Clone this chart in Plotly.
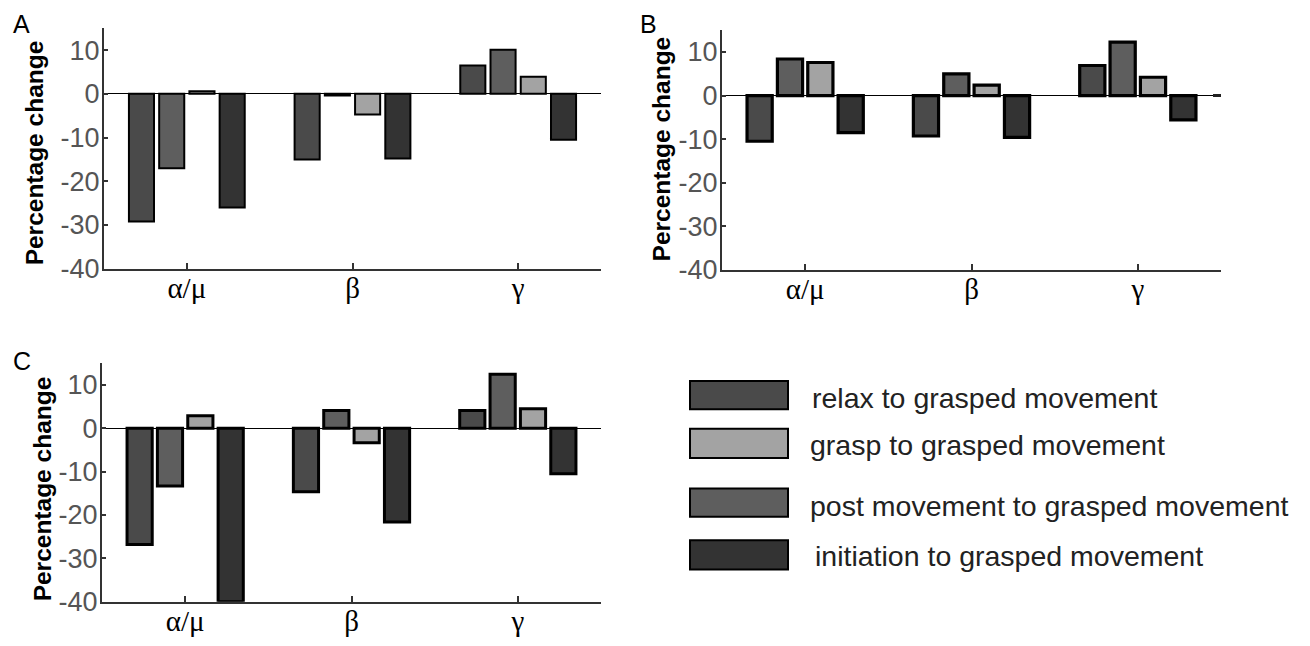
import plotly.graph_objects as go

# ---------------- data ----------------
bands = ["α/μ", "β", "γ"]
series_names = ["relax to grasped movement", "post movement to grasped movement",
                "grasp to grasped movement", "initiation to grasped movement"]
series_colors = ["#4a4a4a", "#5e5e5e", "#a3a3a3", "#333333"]

A_relax = [-29.2, -15.0, 6.5]
A_post = [-17.0, -0.4, 10.1]
A_grasp = [0.6, -4.7, 3.9]
A_init = [-26.0, -14.8, -10.5]

B_relax = [-10.5, -9.3, 6.9]
B_post = [8.4, 5.0, 12.3]
B_grasp = [7.6, 2.4, 4.2]
B_init = [-8.5, -9.6, -5.6]

C_relax = [-26.8, -14.6, 4.1]
C_post = [-13.3, 4.1, 12.5]
C_grasp = [2.9, -3.3, 4.5]
C_init = [-40.0, -21.6, -10.5]

y_ticks = [-40, -30, -20, -10, 0, 10]

legend_order = [0, 2, 1, 3]  # relax, grasp, post, initiation

W, H = 1310, 646

def px_x(v):
    return v / W

def px_y(v):
    return 1 - v / H

panels = [
    ("x", "y", [A_relax, A_post, A_grasp, A_init], 2.0),
    ("x2", "y2", [B_relax, B_post, B_grasp, B_init], 3.2),
    ("x3", "y3", [C_relax, C_post, C_grasp, C_init], 3.0),
]

fig = go.Figure()
for xa, ya, data, lw in panels:
    for i, vals in enumerate(data):
        fig.add_trace(go.Bar(
            x=[1, 2, 3], y=vals, name=series_names[i], xaxis=xa, yaxis=ya,
            marker=dict(color=series_colors[i], line=dict(color="#000000", width=lw)),
            showlegend=False, offsetgroup=str(i),
        ))

domains = {
    "A": ([px_x(104), px_x(601)], [px_y(275), px_y(29)]),
    "B": ([px_x(722), px_x(1221)], [px_y(276), px_y(31)]),
    "C": ([px_x(102), px_x(601)], [px_y(616), px_y(372)]),
}

def xaxis(dom, anchor):
    return dict(domain=dom, anchor=anchor, range=[0.5, 3.5],
                tickvals=[1, 2, 3], ticktext=bands,
                tickfont=dict(family="Liberation Serif", size=29, color="#000000"),
                ticklabelstandoff=-7,
                showline=True, linecolor="#333333", linewidth=2,
                ticks="inside", ticklen=6, tickwidth=2, tickcolor="#333333",
                showgrid=False, zeroline=False, fixedrange=True)

def yaxis(dom, anchor):
    return dict(domain=dom, anchor=anchor, range=[-40, 15],
                tickvals=y_ticks, ticktext=[str(t) for t in y_ticks],
                tickfont=dict(family="Liberation Sans", size=27, color="#555555"),
                ticklabelstandoff=-3,
                showline=True, linecolor="#333333", linewidth=2,
                ticks="inside", ticklen=4, tickwidth=1.5, tickcolor="#333333",
                showgrid=False,
                zeroline=True, zerolinecolor="#000000", zerolinewidth=1,
                fixedrange=True)

fig.update_layout(
    width=W, height=H, margin=dict(l=0, r=0, t=0, b=0),
    paper_bgcolor="white", plot_bgcolor="white",
    barmode="group", bargap=0.27, bargroupgap=0.17,
    xaxis=xaxis(domains["A"][0], "y"), yaxis=yaxis(domains["A"][1], "x"),
    xaxis2=xaxis(domains["B"][0], "y2"), yaxis2=yaxis(domains["B"][1], "x2"),
    xaxis3=xaxis(domains["C"][0], "y3"), yaxis3=yaxis(domains["C"][1], "x3"),
)

annotations = []
# y-axis titles
for xc, yc in [(34, 157), (661, 153), (42, 501)]:
    annotations.append(dict(text="<b>Percentage change</b>", x=px_x(xc), y=px_y(yc),
                            xref="paper", yref="paper", xanchor="center", yanchor="middle",
                            textangle=-90, showarrow=False,
                            font=dict(family="Liberation Sans", size=24.5, color="#000000")))
# panel letters
for lab, xc, yc in [("A", 21, 25), ("B", 648, 25), ("C", 22, 370)]:
    annotations.append(dict(text=lab, x=px_x(xc), y=px_y(yc), xref="paper", yref="paper",
                            xanchor="center", yanchor="middle", showarrow=False,
                            font=dict(family="Liberation Sans", size=25, color="#000000")))

# custom legend
shapes = []
box_rows = [(390, 419), (439, 469), (500, 529), (553, 583)]
text_y = [407, 456, 518, 569]
text_x = [810, 808, 808, 813]
for k, si in enumerate(legend_order):
    y0, y1 = box_rows[k]
    shapes.append(dict(type="rect", xref="paper", yref="paper",
                       x0=px_x(690), x1=px_x(788), y0=px_y(y1), y1=px_y(y0),
                       fillcolor=series_colors[si], line=dict(color="#000000", width=2)))
    annotations.append(dict(text=series_names[si], x=px_x(text_x[k]), y=px_y(text_y[k]),
                            xref="paper", yref="paper", xanchor="left", yanchor="middle",
                            showarrow=False,
                            font=dict(family="Liberation Sans", size=28.5, color="#222222")))

# small dash at end of zero line in panel B
shapes.append(dict(type="line", xref="x2 domain", yref="y2", x0=0.984, x1=1.0, y0=0, y1=0,
                   line=dict(color="#222222", width=3)))

fig.update_layout(annotations=annotations, shapes=shapes)
fig.write_html("out.html")
